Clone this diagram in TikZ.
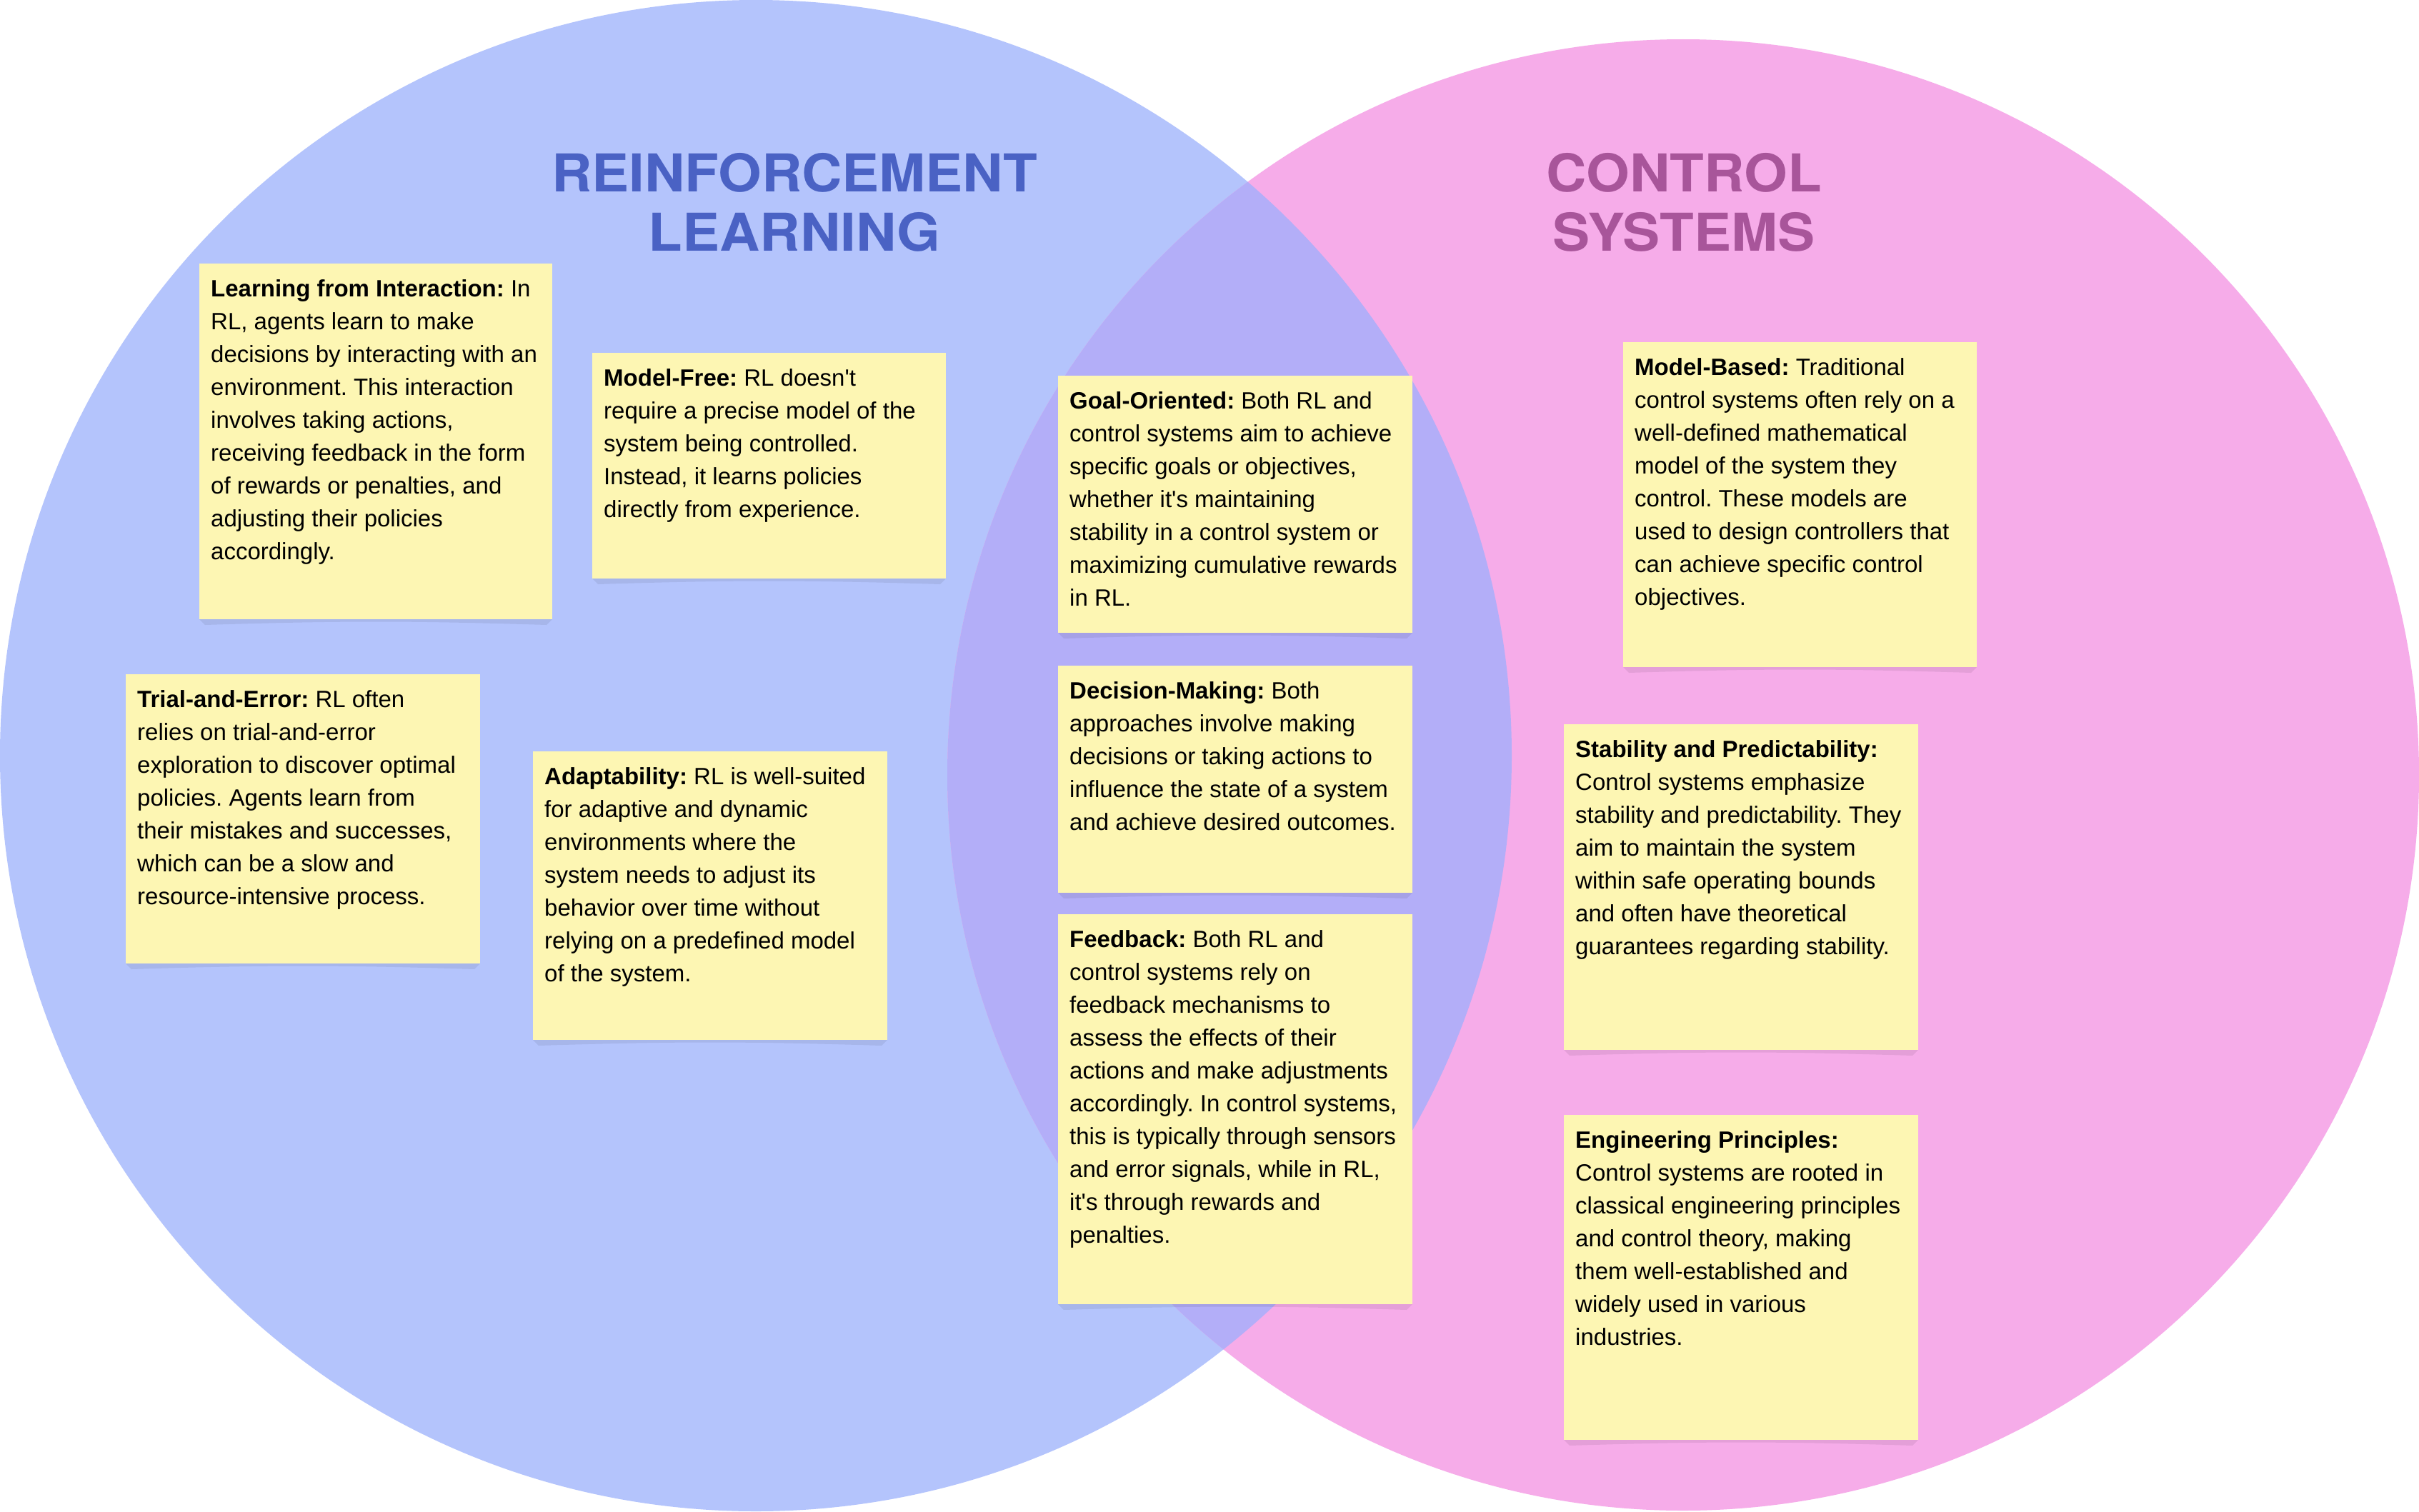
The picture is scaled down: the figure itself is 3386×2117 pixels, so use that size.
\documentclass[tikz,border=0pt]{standalone}
\usepackage{fontspec}
\usepackage{graphicx}
\setmainfont{Liberation Sans}
\newfontfamily\titlefont{TeX Gyre Heros}
\definecolor{rlfill}{HTML}{B4C4FC}
\definecolor{csfill}{HTML}{F6ACE9}
\definecolor{bothfill}{HTML}{B3AEF8}
\definecolor{notefill}{HTML}{FDF6B3}
\definecolor{rltitle}{HTML}{4A62C4}
\definecolor{cstitle}{HTML}{A8559A}
\newcommand\apos{\textquotesingle}
\tikzset{
  notetext/.style={anchor=north west, inner sep=0pt, align=left, text=black,
    font=\fontsize{33}{46}\selectfont\frenchspacing},
  titletext/.style={anchor=north, inner sep=0pt, align=center,
    font=\titlefont\bfseries\fontsize{73}{83}\selectfont},
  noteshadow/.style={fill=black, fill opacity=0.07},
}
\newcommand\stickynote[6]{%
  \fill[noteshadow] (#2,#5) -- (#4,#5) -- (#4-8,#5+8)
     .. controls (#4-200,#5+2) and (#2+200,#5+2) .. (#2+8,#5+8) -- cycle;
  \fill[notefill] (#2,#3) rectangle (#4,#5);
  \node[notetext] (#1) at (#2+16,#3+13.8) {\strut #6};
}
\begin{document}
\begin{tikzpicture}[x=1pt,y=-1pt]
\useasboundingbox (0,0) rectangle (3386,2117);
\fill[white] (0,0) rectangle (3386,2117);
% circles
\fill[rlfill] (1058,1058) circle (1058);
\fill[csfill] (2356,1085) circle (1030);
\begin{scope}
  \clip (1058,1058) circle (1058);
  \fill[bothfill] (2356,1085) circle (1030);
\end{scope}
% titles
\node[titletext, text=rltitle] (rl) at (1112,214)
  {\scalebox{1.07}[1]{REINFORCEMENT}\\\scalebox{1.07}[1]{LEARNING}};
\node[titletext, text=cstitle] (cs) at (2357,214)
  {\scalebox{1.07}[1]{CONTROL}\\\scalebox{1.07}[1]{SYSTEMS}};
% notes
\stickynote{lfi}{279}{369}{773}{867}{\textbf{Learning from Interaction:} In\\RL, agents learn to make\\decisions by interacting with an\\environment. This interaction\\involves taking actions,\\receiving feedback in the form\\of rewards or penalties, and\\adjusting their policies\\accordingly.}
\stickynote{mf}{829}{494}{1324}{810}{\textbf{Model-Free:} RL doesn\apos t\\require a precise model of the\\system being controlled.\\Instead, it learns policies\\directly from experience.}
\stickynote{te}{176}{944}{672}{1349}{\textbf{Trial-and-Error:} RL often\\relies on trial-and-error\\exploration to discover optimal\\policies. Agents learn from\\their mistakes and successes,\\which can be a slow and\\resource-intensive process.}
\stickynote{ad}{746}{1052}{1242}{1456}{\textbf{Adaptability:} RL is well-suited\\for adaptive and dynamic\\environments where the\\system needs to adjust its\\behavior over time without\\relying on a predefined model\\of the system.}
\stickynote{go}{1481}{526}{1977}{886}{\textbf{Goal-Oriented:} Both RL and\\control systems aim to achieve\\specific goals or objectives,\\whether it\apos s maintaining\\stability in a control system or\\maximizing cumulative rewards\\in RL.}
\stickynote{dm}{1481}{932}{1977}{1250}{\textbf{Decision-Making:} Both\\approaches involve making\\decisions or taking actions to\\influence the state of a system\\and achieve desired outcomes.}
\stickynote{fb}{1481}{1280}{1977}{1826}{\textbf{Feedback:} Both RL and\\control systems rely on\\feedback mechanisms to\\assess the effects of their\\actions and make adjustments\\accordingly. In control systems,\\this is typically through sensors\\and error signals, while in RL,\\it\apos s through rewards and\\penalties.}
\stickynote{mb}{2272}{479}{2767}{934}{\textbf{Model-Based:} Traditional\\control systems often rely on a\\well-defined mathematical\\model of the system they\\control. These models are\\used to design controllers that\\can achieve specific control\\objectives.}
\stickynote{sp}{2189}{1014}{2685}{1470}{\textbf{Stability and Predictability:}\\Control systems emphasize\\stability and predictability. They\\aim to maintain the system\\within safe operating bounds\\and often have theoretical\\guarantees regarding stability.}
\stickynote{ep}{2189}{1561}{2685}{2016}{\textbf{Engineering Principles:}\\Control systems are rooted in\\classical engineering principles\\and control theory, making\\them well-established and\\widely used in various\\industries.}
\end{tikzpicture}
\end{document}
